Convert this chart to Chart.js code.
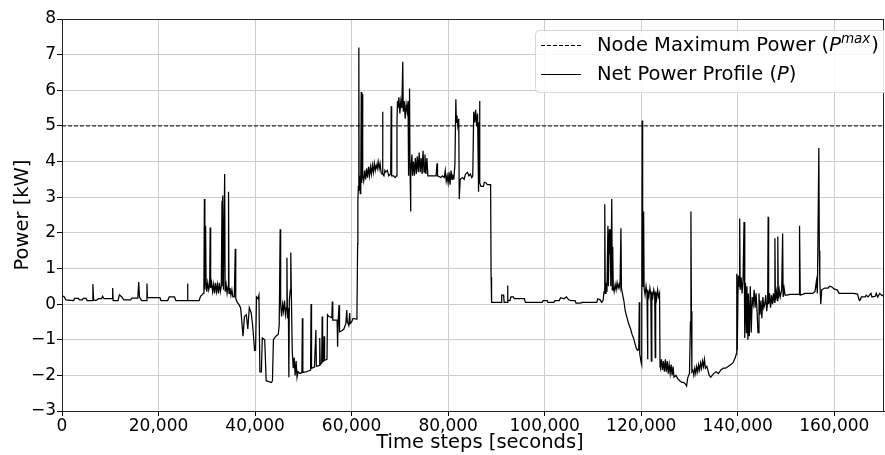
<!DOCTYPE html>
<html>
<head>
<meta charset="utf-8">
<script src="https://cdn.jsdelivr.net/npm/chart.js@4.4.1/dist/chart.umd.min.js"></script>
<style>
  html, body { margin: 0; padding: 0; background: #fff; }
  #wrap { width: 885px; height: 455px; }
</style>
</head>
<body>
<div id="wrap"><canvas id="powerChart" width="885" height="455"></canvas></div>
<script>
// net power profile as [time step (s), power (kW)]
const nightLoad = [
  [0, 0.22], [400, 0.22], [800, 0.12], [2400, 0.1], [2600, 0.16], [3400, 0.16], [3600, 0.12],
  [4200, 0.12], [4400, 0.16], [5000, 0.16], [5200, 0.1], [6300, 0.1], [6400, 0.56], [6550, 0.12],
  [7000, 0.1], [7600, 0.15], [8200, 0.15], [8400, 0.22], [8700, 0.15], [10400, 0.15], [10500, 0.45],
  [10600, 0.1], [11600, 0.1], [11900, 0.26], [12400, 0.2], [12800, 0.12], [14200, 0.12], [14500, 0.17],
  [15700, 0.17], [15900, 0.62], [16050, 0.2], [16500, 0.1], [17500, 0.1], [17600, 0.58], [17700, 0.18],
  [20300, 0.18], [20500, 0.1], [21900, 0.1], [22200, 0.2], [23300, 0.2], [23600, 0.1], [25900, 0.1],
  [26000, 0.58], [26100, 0.1], [28400, 0.1], [28700, 0.22], [29300, 0.3]
];
const morningLoad = [
  [29400, 0.55], [29500, 2.95], [29600, 0.4], [29750, 2.2], [29850, 0.6], [30000, 0.35], [30200, 0.6],
  [30400, 0.4], [30600, 0.55], [30700, 2.15], [30800, 0.45], [31000, 0.6], [31200, 0.35], [31400, 0.55],
  [31600, 0.3], [31800, 0.6], [32000, 0.35], [32200, 0.55], [32400, 0.3], [32600, 0.6], [32800, 0.35],
  [33000, 0.5], [33150, 2.9], [33250, 0.5], [33350, 3.05], [33450, 0.4], [33700, 3.65], [33800, 0.35],
  [34000, 0.55], [34200, 0.3], [34400, 0.5], [34500, 3.15], [34600, 0.3], [34800, 0.45], [35000, 0.25],
  [35200, 0.4], [35400, 0.2], [35700, 0.2], [35900, 1.55], [36000, 0.15], [36300, 0.05], [36600, 0.0],
  [37000, -0.1]
];
const solarDip1 = [
  [37200, -0.4], [37500, -0.9], [37800, -0.35], [38200, -0.3], [38500, -0.7], [38800, -0.1],
  [39200, -0.25], [39500, -0.6], [39900, -1.3], [40100, -1.3], [40300, 0.2], [40600, 0.15], [40800, 0.25],
  [41000, -1.9], [41300, -1.9], [41500, -0.95], [42000, -1.0], [42300, -2.15], [43400, -2.2],
  [43600, -2.15], [43800, -1.0], [44300, -0.9], [44800, -0.85], [45000, -0.6], [45200, 2.1], [45300, 0.0],
  [45500, -0.35], [45700, 0.0], [45900, -0.2], [46100, 0.1], [46300, -0.3], [46500, -0.1], [46600, 1.3],
  [46700, -0.4], [46900, -0.1], [47000, -2.05], [47100, 0.1], [47300, 0.4], [47400, 1.45], [47500, 0.45],
  [47700, -1.3], [47900, -1.8], [48100, -1.5], [48300, -2.0], [48500, -1.6], [48700, -2.05], [48900, -1.9],
  [49300, -1.95], [49700, -1.92], [49800, -0.4], [49900, -1.92], [50500, -1.9], [51200, -1.87],
  [51500, -1.85], [51600, 0.0], [51700, -1.8], [52300, -1.77], [52600, -0.73], [52700, -1.75],
  [53300, -1.72], [53400, -0.95], [53500, -1.7], [53800, -1.65], [53900, -0.35], [54000, -1.62],
  [54200, -1.6], [54300, -0.9], [54400, -1.58], [54900, -1.55], [55000, -0.3], [55300, -0.35],
  [55900, -0.38], [56000, 0.07], [56100, -0.45], [57000, -0.45], [57100, -1.2], [57200, -0.5],
  [57400, -0.03], [57500, -0.78], [58000, -0.75], [58400, -0.7], [58800, -0.55], [59000, -0.17],
  [59100, -0.5], [59400, -0.6], [59600, -0.25], [59700, -0.55], [60000, -0.5], [60300, -0.4], [61000, -0.42]
];
const eveningPeak = [
  [61100, -0.4], [61250, 1.7], [61300, 2.9], [61400, 3.3], [61500, 7.2], [61550, 3.2], [61650, 3.6],
  [61800, 3.1], [61900, 3.5], [62000, 5.95], [62100, 3.4], [62200, 5.9], [62300, 3.6], [62500, 3.45],
  [62700, 3.75], [62900, 3.5], [63100, 3.8], [63300, 3.55], [63500, 3.85], [63700, 3.6], [63900, 3.85],
  [64100, 3.65], [64300, 3.9], [64500, 3.7], [64700, 3.95], [64900, 3.75], [65100, 3.9], [65300, 3.8],
  [65500, 4.0], [65700, 3.8], [65900, 3.95], [66100, 3.7], [66300, 3.65], [66400, 5.4], [66500, 3.65],
  [66700, 3.6], [66900, 3.75], [67100, 3.7], [67400, 3.75], [67700, 3.6], [68100, 3.65], [68200, 5.55],
  [68300, 3.6], [68700, 3.6], [69000, 3.55], [69300, 3.6], [69400, 5.1], [69500, 5.7], [69600, 5.5],
  [69800, 5.8], [70000, 5.35], [70200, 5.7], [70400, 5.5], [70600, 6.8], [70700, 5.4], [70900, 5.7],
  [71100, 5.2], [71300, 5.6], [71500, 5.4], [71700, 5.7], [71800, 3.6], [71900, 5.5], [72000, 6.05],
  [72100, 3.8], [72200, 2.6], [72300, 3.7], [72500, 4.2], [72600, 3.6], [72800, 4.0], [73000, 3.6],
  [73200, 4.1], [73400, 3.65], [73600, 4.15], [73800, 3.7], [74000, 4.25], [74200, 3.7], [74400, 4.1],
  [74600, 3.65], [74800, 4.3], [75000, 3.7], [75200, 4.2], [75400, 3.65], [75600, 4.1], [75800, 3.6],
  [76000, 3.6], [77500, 3.6], [77700, 3.95], [77800, 3.6], [78500, 3.55], [78800, 3.6], [79200, 3.55],
  [79400, 3.75], [79600, 3.45], [79800, 3.6], [80000, 3.4], [80200, 3.7], [80400, 3.35], [80600, 3.75],
  [80800, 3.5], [81000, 3.6], [81200, 3.55], [81400, 3.9], [81600, 5.75], [81700, 5.1], [81800, 5.3],
  [82000, 5.0], [82200, 5.2], [82300, 2.95], [82500, 3.5], [83000, 3.55], [83300, 3.5], [83600, 3.65],
  [84000, 3.7], [84300, 3.6], [84600, 3.65], [84900, 3.55], [85100, 3.6], [85300, 5.4], [85500, 5.1],
  [85700, 5.45], [85900, 5.0], [86100, 5.35], [86300, 3.15], [86400, 5.1], [86500, 5.7], [86600, 3.4],
  [86800, 3.3], [87300, 3.3], [87500, 3.42], [87900, 3.4], [88100, 3.35], [88800, 3.35], [88900, 0.75]
];
const secondNight = [
  [89000, 0.05], [91000, 0.05], [91100, 0.25], [91500, 0.25], [91600, 0.05], [92200, 0.05], [92300, 0.52],
  [92400, 0.1], [92800, 0.1], [93000, 0.2], [93500, 0.2], [93700, 0.15], [95800, 0.15], [96000, 0.05],
  [99500, 0.05], [99700, 0.1], [100500, 0.1], [100700, 0.05], [101900, 0.05], [102100, 0.1],
  [103000, 0.1], [103300, 0.18], [104000, 0.15], [104500, 0.2], [105000, 0.12], [105400, 0.1],
  [106300, 0.1], [106500, 0.03], [107500, 0.03], [107700, 0.05], [110800, 0.05], [111000, 0.15],
  [111500, 0.12], [111800, 0.05], [112100, 0.1]
];
const secondMorning = [
  [112300, 0.35], [112450, 2.8], [112550, 0.3], [112700, 0.6], [112900, 0.35], [113100, 2.2],
  [113200, 0.5], [113400, 2.1], [113500, 1.4], [113600, 2.1], [113700, 0.5], [113900, 2.95], [114000, 0.4],
  [114100, 1.6], [114200, 0.5], [114400, 0.35], [114600, 0.55], [114800, 0.4], [115000, 0.6],
  [115200, 0.45], [115400, 0.55], [115600, 0.45], [115800, 2.13], [115900, 0.45], [116100, 0.3],
  [116400, 0.1], [116700, -0.2], [117000, -0.35], [117400, -0.55], [117800, -0.7], [118100, -0.85],
  [118400, -0.95], [118700, -1.1], [119000, -1.25], [119300, -1.3], [119500, -1.25], [119600, 0.05],
  [119700, -1.4], [120000, -1.65], [120100, -1.7], [120200, 5.15], [120300, 2.5], [120400, 0.5],
  [120500, 2.6], [120600, 0.45], [120800, 0.25], [121000, 0.5], [121200, 0.3], [121300, -1.55],
  [121400, 0.4], [121600, 0.2], [121800, 0.45], [122000, 0.25], [122100, -1.6], [122200, 0.35],
  [122400, 0.2], [122600, 0.4], [122800, 0.25], [122900, -1.5], [123000, 0.35], [123200, 0.15],
  [123400, 0.4], [123600, 0.2], [123800, 0.3]
];
const solarDip2 = [
  [123900, -1.75], [124000, -1.8], [124200, -1.55], [124400, -1.85], [124600, -1.6], [124800, -1.9],
  [125000, -1.55], [125200, -1.9], [125400, -1.6], [125600, -1.95], [125800, -1.7], [126000, -1.95],
  [126200, -1.7], [126400, -2.0], [126600, -1.75], [126800, -2.05], [127200, -2.0], [127600, -2.1],
  [128000, -2.15], [128400, -2.2], [128800, -2.2], [129200, -2.25], [129400, -2.3], [129600, -2.1],
  [129800, -2.0], [130000, -1.95], [130200, -0.5], [130300, 2.6], [130400, -0.2], [130500, -1.9],
  [130700, -1.85], [130900, -2.0], [131100, -1.8], [131300, -1.95], [131500, -1.75], [131700, -1.9],
  [131900, -1.7], [132100, -1.85], [132300, -1.65], [132500, -1.8], [132700, -1.6], [132900, -1.75],
  [133100, -1.55], [133300, -1.8], [133600, -1.75], [134100, -2.0], [134400, -2.05], [135000, -1.95],
  [135500, -1.9], [136000, -1.95], [136500, -1.85], [137000, -1.8], [137500, -1.8], [138000, -1.75],
  [138500, -1.7], [139000, -1.65], [139500, -1.5], [139700, -1.4]
];
const afternoonLoad = [
  [139800, 0.85], [139900, -1.3], [140100, 0.8], [140300, 0.5], [140400, 2.4], [140500, 0.4],
  [140700, 0.75], [140900, 0.3], [141100, 0.7], [141300, 2.3], [141400, 0.35], [141500, -0.95],
  [141600, 0.6], [141800, -0.8], [141900, 0.5], [142100, -1.0], [142200, 0.3], [142400, -0.9],
  [142600, 0.5], [142800, -0.8], [143000, 0.2], [143200, 0.0], [143400, 0.4], [143600, -0.1],
  [143800, 0.3], [144000, -0.2], [144200, -0.8], [144400, 0.3], [144600, -0.3], [144800, 0.1],
  [145000, -0.4], [145200, 0.2], [145400, -0.1], [145600, 0.0], [145800, 0.25], [146000, -0.2],
  [146200, 0.1], [146300, 2.45], [146400, 0.0], [146600, 0.3], [146800, -0.1], [147000, 0.25],
  [147200, 0.0], [147400, 0.3], [147600, 0.05], [147700, 1.85], [147800, 0.1], [148000, 0.35],
  [148200, 0.1], [148300, 1.9], [148400, 0.15], [148600, 0.4], [148800, 0.2], [149100, 0.4],
  [149300, 1.98], [149400, 0.2], [149600, 0.45], [149800, 0.25]
];
const lateEvening = [
  [150200, 0.25], [150800, 0.27], [152700, 0.27], [152800, 2.2], [152950, 0.25], [154000, 0.3],
  [155500, 0.3], [156000, 0.35], [156300, 0.65], [156500, 0.3], [156800, 4.38], [156900, 1.5],
  [157000, 0.65], [157200, 0.0], [157400, 0.4], [158000, 0.45], [158700, 0.45], [159000, 0.5],
  [159500, 0.48], [160000, 0.42], [160600, 0.4], [161000, 0.3], [162000, 0.3], [163000, 0.3],
  [164000, 0.3], [164800, 0.28], [165200, 0.1], [165400, 0.12], [165600, 0.2], [166400, 0.2],
  [166600, 0.25], [167000, 0.2], [167600, 0.3], [167800, 0.2], [168500, 0.22], [168700, 0.3],
  [169000, 0.2], [169400, 0.3], [169800, 0.25], [170300, 0.22]
];

const maxPower = 5;          // P^max in kW
const timeRange = [0, 170300];
const xTicks = [0, 20000, 40000, 60000, 80000, 100000, 120000, 140000, 160000];
const yTicks = [-3, -2, -1, 0, 1, 2, 3, 4, 5, 6, 7, 8];
const xTitle = 'Time steps [seconds]';

const FONT = "'DejaVu Sans', Verdana, sans-serif";

const profile = [].concat(nightLoad, morningLoad, solarDip1, eveningPeak,
  secondNight, secondMorning, solarDip2, afternoonLoad, lateEvening)
  .map(p => ({ x: p[0], y: p[1] }));

// top/right spine + x axis label (sits a bit right of centre in the original)
const framePlugin = {
  id: 'frame',
  afterDatasetsDraw(chart) {
    const { ctx, chartArea: a } = chart;
    ctx.save();
    ctx.strokeStyle = '#222';
    ctx.lineWidth = 1;
    ctx.strokeRect(a.left + 0.5, a.top + 0.5, a.right - a.left - 1, a.bottom - a.top);
    ctx.fillStyle = '#000';
    ctx.font = '19.5px ' + FONT;
    ctx.textAlign = 'center';
    ctx.textBaseline = 'middle';
    ctx.fillText(xTitle, 480, 443);
    ctx.restore();
  }
};

// matplotlib-like legend with italic P and superscript
const legendPlugin = {
  id: 'mplLegend',
  afterDraw(chart) {
    const ctx = chart.ctx;
    const x0 = 535, y0 = 30, w = 360, h = 62;
    ctx.save();
    ctx.beginPath();
    ctx.roundRect(x0 + 0.5, y0 + 0.5, w, h, 4);
    ctx.fillStyle = 'rgba(255,255,255,0.85)';
    ctx.fill();
    ctx.strokeStyle = '#d6d6d6';
    ctx.stroke();

    const rows = [
      { y: 46, dash: [4, 2], parts: [['Node Maximum Power (', 'n'], ['P', 'i'], ['max', 's'], [')', 'n']] },
      { y: 75, dash: [], parts: [['Net Power Profile (', 'n'], ['P', 'i'], [')', 'n']] }
    ];
    rows.forEach(r => {
      ctx.beginPath();
      ctx.setLineDash(r.dash);
      ctx.strokeStyle = '#000';
      ctx.lineWidth = 1;
      ctx.moveTo(541, r.y - 0.5);
      ctx.lineTo(581, r.y - 0.5);
      ctx.stroke();
      ctx.setLineDash([]);
      let x = 597;
      ctx.fillStyle = '#000';
      ctx.textBaseline = 'middle';
      r.parts.forEach(([txt, kind]) => {
        let yy = r.y;
        if (kind === 'n') ctx.font = '19.5px ' + FONT;
        else if (kind === 'i') ctx.font = 'oblique 19.5px ' + FONT;
        else { ctx.font = 'oblique 13.5px ' + FONT; yy = r.y - 7; }
        ctx.fillText(txt, x, yy);
        x += ctx.measureText(txt).width + (kind === 's' ? 1 : 0);
      });
    });
    ctx.restore();
  }
};

const ctx = document.getElementById('powerChart').getContext('2d');
new Chart(ctx, {
  type: 'line',
  data: {
    datasets: [
      {
        label: 'Node Maximum Power',
        data: [{ x: timeRange[0], y: maxPower }, { x: timeRange[1], y: maxPower }],
        borderColor: '#000',
        borderWidth: 1,
        borderDash: [4, 2],
        pointRadius: 0
      },
      {
        label: 'Net Power Profile',
        data: profile,
        borderColor: '#000',
        borderWidth: 1.25,
        pointRadius: 0,
        tension: 0
      }
    ]
  },
  options: {
    responsive: false,
    animation: false,
    devicePixelRatio: 1,
    layout: { padding: { top: 19, right: 1, left: 0, bottom: 0 } },
    plugins: { legend: { display: false }, tooltip: { enabled: false } },
    scales: {
      x: {
        type: 'linear',
        min: timeRange[0],
        max: timeRange[1],
        afterBuildTicks: s => { s.ticks = xTicks.map(v => ({ value: v })); },
        ticks: {
          autoSkip: false,
          maxRotation: 0,
          padding: 0,
          color: '#000',
          font: { family: FONT, size: 17 },
          callback: v => v.toLocaleString('en-US')
        },
        grid: { color: '#cccccc', tickColor: '#000', tickLength: 5 },
        border: { color: '#222' },
        afterFit: s => { s.height = 44; }
      },
      y: {
        min: yTicks[0],
        max: yTicks[yTicks.length - 1],
        afterBuildTicks: s => { s.ticks = yTicks.map(v => ({ value: v })); },
        ticks: {
          autoSkip: false,
          padding: 1,
          color: '#000',
          font: { family: FONT, size: 17 },
          callback: v => String(v).replace('-', '\u2212')
        },
        grid: { color: '#cccccc', tickColor: '#000', tickLength: 5 },
        border: { color: '#222' },
        title: {
          display: true,
          text: 'Power [kW]',
          color: '#000',
          font: { family: FONT, size: 19.5 },
          padding: { top: 11, bottom: 0 }
        },
        afterFit: s => { s.width = 62; }
      }
    }
  },
  plugins: [framePlugin, legendPlugin]
});
</script>
</body>
</html>
